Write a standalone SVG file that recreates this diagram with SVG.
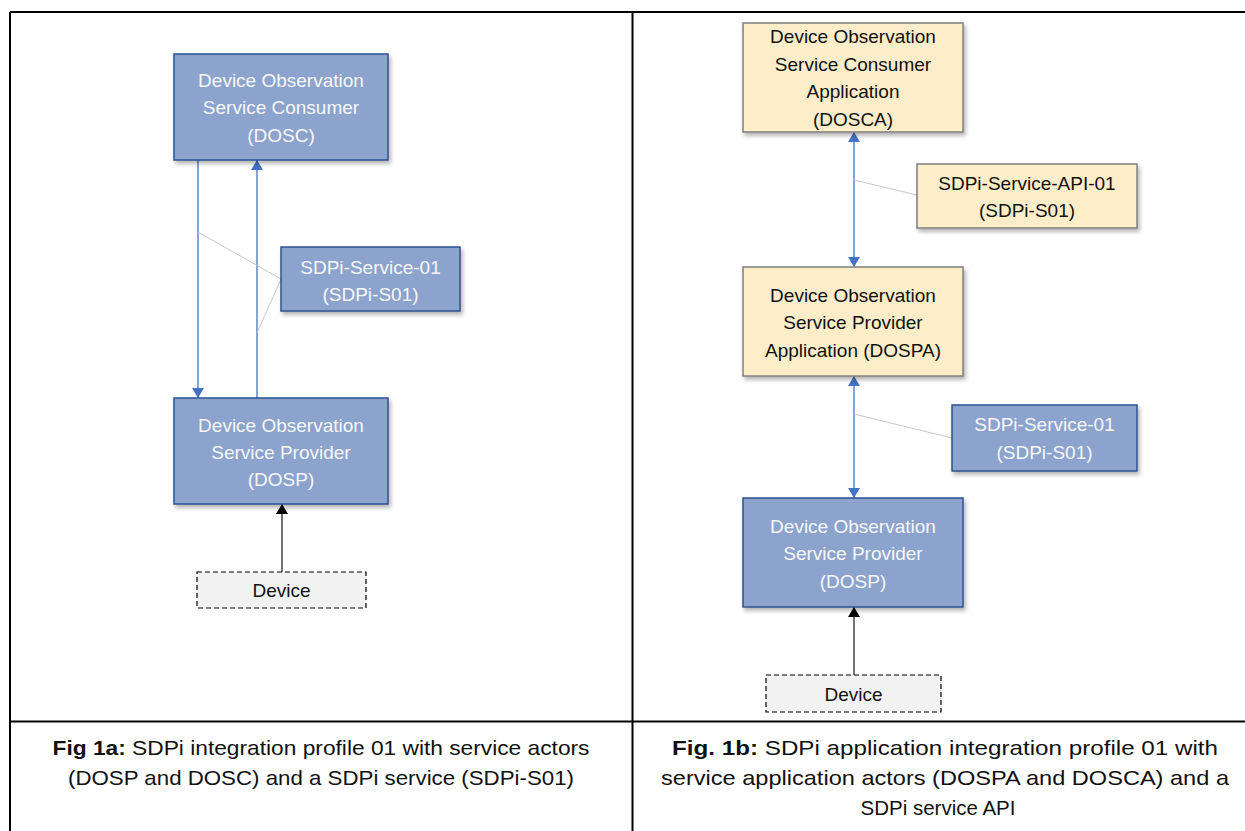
<svg xmlns="http://www.w3.org/2000/svg" width="1245" height="831" viewBox="0 0 1245 831">
<defs>
<style>
.blue{fill:#8BA3CD;stroke:#2F528F;stroke-width:1.5}
.yel{fill:#FDEDC9;stroke:#7F7F7F;stroke-width:1.5}
.dev{fill:#F2F2F2;stroke:#000;stroke-width:1.2;stroke-dasharray:5 3}
.wt{fill:#F7F7F7;font-family:"Liberation Sans",Arial,sans-serif;font-size:19px;text-anchor:middle}
.bt{fill:#111;font-family:"Liberation Sans",Arial,sans-serif;font-size:19px;text-anchor:middle}
.cap{fill:#111;font-family:"Liberation Sans",Arial,sans-serif;font-size:21px;text-anchor:middle}
.conn{stroke:#4472C4;stroke-width:1.3;fill:none}
.blk{stroke:#000;stroke-width:1.1;fill:none}
.lead{stroke:#C8C8C8;stroke-width:1;fill:none}
.grid{stroke:#000;stroke-width:2;fill:none}
</style>
<filter id="sh" x="-10%" y="-10%" width="130%" height="140%">
<feDropShadow dx="2" dy="3" stdDeviation="2" flood-color="#000" flood-opacity="0.3"/>
</filter>
<marker id="ab" viewBox="0 0 10 12" refX="10" refY="6" markerWidth="10" markerHeight="12" markerUnits="userSpaceOnUse" orient="auto-start-reverse">
<path d="M0,0 L10,6 L0,12 z" fill="#4472C4"/>
</marker>
<marker id="ak" viewBox="0 0 10 12" refX="10" refY="6" markerWidth="10" markerHeight="12" markerUnits="userSpaceOnUse" orient="auto-start-reverse">
<path d="M0,0 L10,6 L0,12 z" fill="#000"/>
</marker>
</defs>
<rect width="1245" height="831" fill="#fff"/>
<g id="table">
<path class="grid" d="M10,12 H1245 M10,12 V831 M632.5,12 V831 M10,721.5 H1245"/>
</g>
<g id="connectors">
<line class="conn" x1="198" y1="160" x2="198" y2="398" marker-end="url(#ab)"/>
<line class="conn" x1="257" y1="398" x2="257" y2="160" marker-end="url(#ab)"/>
<polyline class="lead" points="198,232 281,279 257,333"/>
<line class="blk" x1="282" y1="572" x2="282" y2="504" marker-end="url(#ak)"/>
<line class="conn" x1="854" y1="132" x2="854" y2="267" marker-start="url(#ab)" marker-end="url(#ab)"/>
<line class="lead" x1="854" y1="180" x2="917" y2="195"/>
<line class="conn" x1="854" y1="376" x2="854" y2="498" marker-start="url(#ab)" marker-end="url(#ab)"/>
<line class="lead" x1="854" y1="414" x2="952" y2="438"/>
<line class="blk" x1="854" y1="675" x2="854" y2="607" marker-end="url(#ak)"/>
</g>
<g id="dosc">
<rect class="blue" x="174" y="54" width="214" height="106" filter="url(#sh)"/>
<text class="wt" x="281" y="87">Device Observation</text>
<text class="wt" x="281" y="114">Service Consumer</text>
<text class="wt" x="281" y="142">(DOSC)</text>
</g>
<g id="sdpi-s01-a">
<rect class="blue" x="281" y="247" width="179" height="64" filter="url(#sh)"/>
<text class="wt" x="370.5" y="274">SDPi-Service-01</text>
<text class="wt" x="370.5" y="301">(SDPi-S01)</text>
</g>
<g id="dosp-a">
<rect class="blue" x="174" y="398" width="214" height="106" filter="url(#sh)"/>
<text class="wt" x="281" y="432">Device Observation</text>
<text class="wt" x="281" y="459">Service Provider</text>
<text class="wt" x="281" y="486">(DOSP)</text>
</g>
<g id="device-a">
<rect class="dev" x="197" y="572" width="169" height="36"/>
<text class="bt" x="281.5" y="597">Device</text>
</g>
<g id="dosca">
<rect class="yel" x="743" y="23" width="220" height="109" filter="url(#sh)"/>
<text class="bt" x="853" y="43">Device Observation</text>
<text class="bt" x="853" y="71">Service Consumer</text>
<text class="bt" x="853" y="98">Application</text>
<text class="bt" x="853" y="126">(DOSCA)</text>
</g>
<g id="sdpi-api">
<rect class="yel" x="917" y="164" width="220" height="64" filter="url(#sh)"/>
<text class="bt" x="1027" y="190">SDPi-Service-API-01</text>
<text class="bt" x="1027" y="217">(SDPi-S01)</text>
</g>
<g id="dospa">
<rect class="yel" x="743" y="267" width="220" height="109" filter="url(#sh)"/>
<text class="bt" x="853" y="302">Device Observation</text>
<text class="bt" x="853" y="329">Service Provider</text>
<text class="bt" x="853" y="357">Application (DOSPA)</text>
</g>
<g id="sdpi-s01-b">
<rect class="blue" x="952" y="405" width="185" height="66" filter="url(#sh)"/>
<text class="wt" x="1044.5" y="431">SDPi-Service-01</text>
<text class="wt" x="1044.5" y="459">(SDPi-S01)</text>
</g>
<g id="dosp-b">
<rect class="blue" x="743" y="498" width="220" height="109" filter="url(#sh)"/>
<text class="wt" x="853" y="533">Device Observation</text>
<text class="wt" x="853" y="560">Service Provider</text>
<text class="wt" x="853" y="588">(DOSP)</text>
</g>
<g id="device-b">
<rect class="dev" x="766" y="675" width="175" height="37"/>
<text class="bt" x="853.5" y="701">Device</text>
</g>
<g id="captions">
<text class="cap" x="321" y="755" textLength="537" lengthAdjust="spacingAndGlyphs"><tspan font-weight="bold">Fig 1a:</tspan> SDPi integration profile 01 with service actors</text>
<text class="cap" x="321" y="785" textLength="506" lengthAdjust="spacingAndGlyphs">(DOSP and DOSC) and a SDPi service (SDPi-S01)</text>
<text class="cap" x="945" y="755" textLength="546" lengthAdjust="spacingAndGlyphs"><tspan font-weight="bold">Fig. 1b:</tspan> SDPi application integration profile 01 with</text>
<text class="cap" x="945" y="785" textLength="568" lengthAdjust="spacingAndGlyphs">service application actors (DOSPA and DOSCA) and a</text>
<text class="cap" x="938" y="815" textLength="155" lengthAdjust="spacingAndGlyphs">SDPi service API</text>
</g>
</svg>
